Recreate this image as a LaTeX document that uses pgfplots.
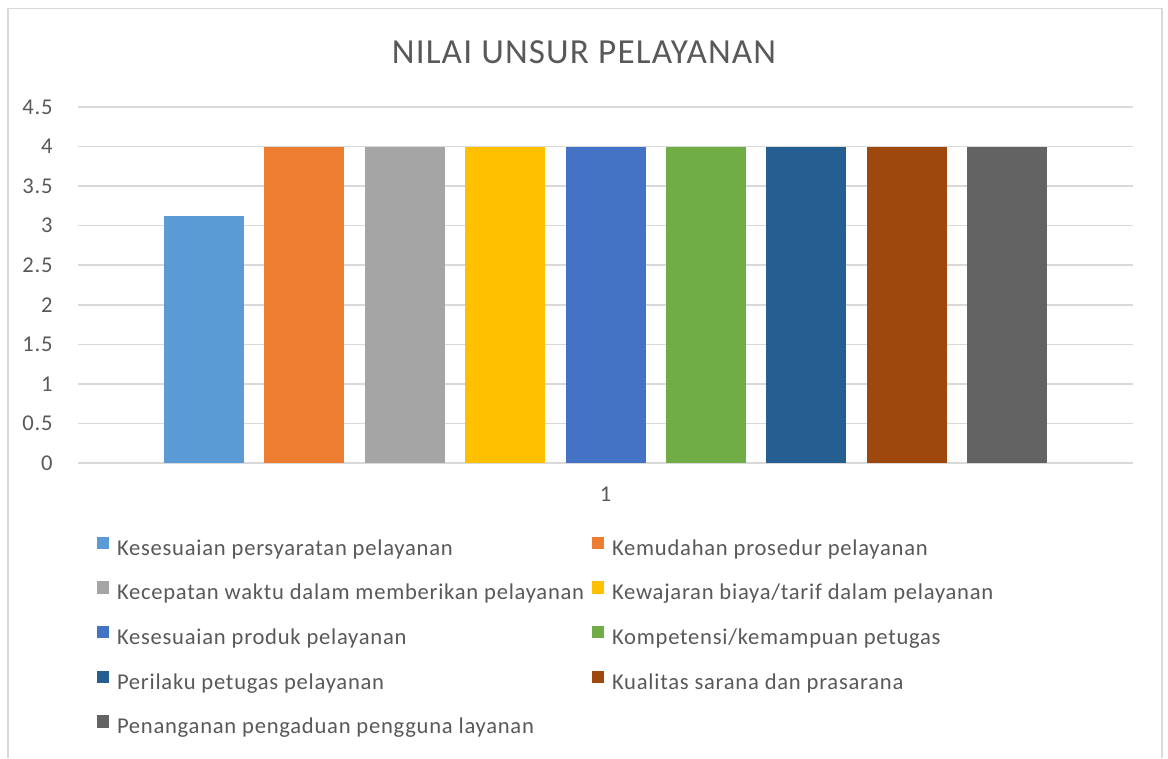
\documentclass[border=0pt]{standalone}
\usepackage{pgfplots}
\pgfplotsset{compat=1.18}
\usepackage{fontspec}
\setmainfont{Carlito}[LetterSpace=3.3]
\definecolor{txt}{HTML}{595959}
\definecolor{grd}{HTML}{D9D9D9}
\definecolor{frm}{HTML}{D9D9D9}
\definecolor{c1}{HTML}{5B9BD5}
\definecolor{c2}{HTML}{ED7D31}
\definecolor{c3}{HTML}{A5A5A5}
\definecolor{c4}{HTML}{FFC000}
\definecolor{c5}{HTML}{4472C4}
\definecolor{c6}{HTML}{70AD47}
\definecolor{c7}{HTML}{255E91}
\definecolor{c8}{HTML}{9E480E}
\definecolor{c9}{HTML}{636363}
\begin{document}
\begin{tikzpicture}
\path (0,0) rectangle (584pt,379pt);
\draw[frm, line width=0.8pt] (4pt,0) -- (4pt,374.75pt) -- (581pt,374.75pt) -- (581pt,0);
\node[anchor=base, text=txt, font=\fontsize{17.6pt}{20pt}\selectfont, inner sep=0pt] at (292pt,347.3pt) {NILAI UNSUR PELAYANAN};
\begin{axis}[
  at={(39pt,147.5pt)}, anchor=south west,
  scale only axis, width=527.5pt, height=178pt,
  ybar=10.2pt, bar width=40pt,
  xmin=0, xmax=2, ymin=0, ymax=4.5,
  xtick={1}, xticklabels={1},
  ytick={0,0.5,1,1.5,2,2.5,3,3.5,4,4.5},
  yticklabels={0,0.5,1,1.5,2,2.5,3,3.5,4,4.5},
  ymajorgrids, major grid style={grd, line width=0.75pt},
  axis line style={draw=none},
  major tick length=0pt,
  tick label style={font=\fontsize{11.3pt}{12pt}\selectfont, text=txt, inner sep=0pt},
  /pgf/number format/assume math mode=true,
  yticklabel style={anchor=east, xshift=-12.5pt},
  xticklabel style={anchor=north, yshift=-11.8pt},
  legend columns=2,
  legend cell align=left,
  legend image code/.code={\fill[#1] (0pt,0.3pt) rectangle (6pt,6.5pt);},
  legend style={draw=none, inner sep=0pt, outer sep=0pt,
    at={(0,0)}, anchor=north west, xshift=9.5pt, yshift=-36.85pt,
    font=\fontsize{11.3pt}{12pt}\selectfont, text=txt,
    nodes={inner sep=0pt, text height=8pt, text depth=2.5pt},
    row sep=10.6pt,
    /tikz/every odd column/.append style={column sep=4pt},
    /tikz/every even column/.append style={column sep=4pt}},
]
\addplot[fill=c1, draw=none] coordinates {(1,3.12)};
\addplot[fill=c2, draw=none] coordinates {(1,4.00)};
\addplot[fill=c3, draw=none] coordinates {(1,3.99)};
\addplot[fill=c4, draw=none] coordinates {(1,4.00)};
\addplot[fill=c5, draw=none] coordinates {(1,3.99)};
\addplot[fill=c6, draw=none] coordinates {(1,4.00)};
\addplot[fill=c7, draw=none] coordinates {(1,4.00)};
\addplot[fill=c8, draw=none] coordinates {(1,4.00)};
\addplot[fill=c9, draw=none] coordinates {(1,4.00)};
\legend{Kesesuaian persyaratan pelayanan, Kemudahan prosedur pelayanan, Kecepatan waktu dalam memberikan pelayanan, Kewajaran biaya/tarif dalam pelayanan, Kesesuaian produk pelayanan, Kompetensi/kemampuan petugas, Perilaku petugas pelayanan, Kualitas sarana dan prasarana, Penanganan pengaduan pengguna layanan}
\end{axis}
\end{tikzpicture}
\end{document}
